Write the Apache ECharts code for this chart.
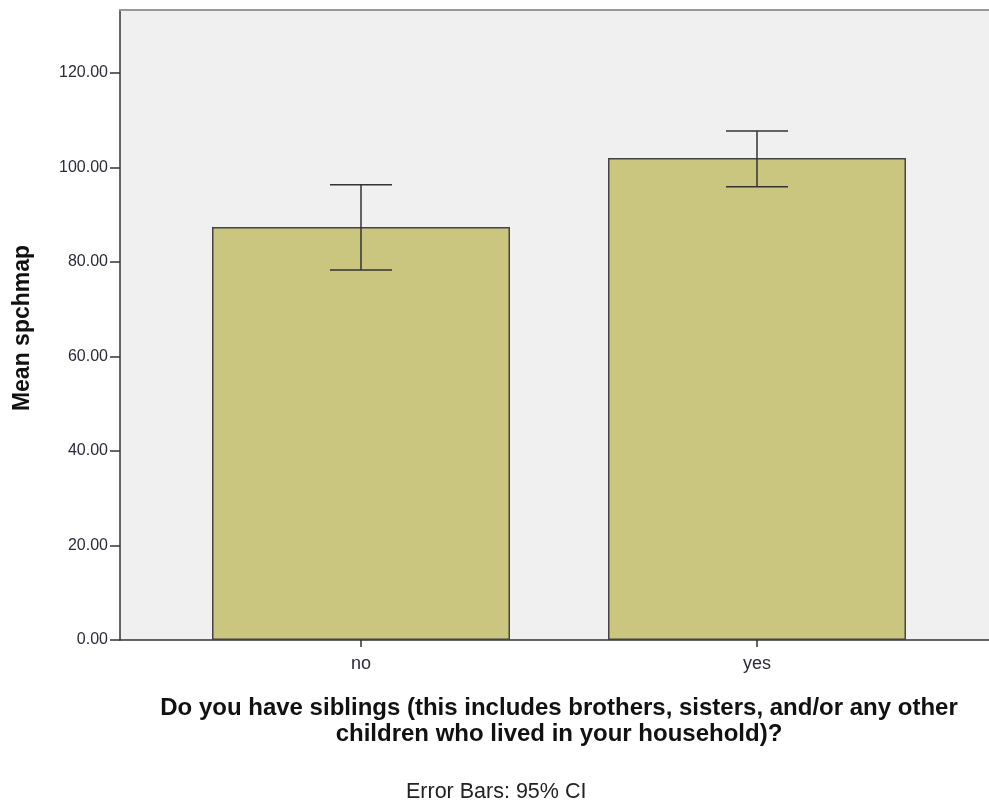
<!DOCTYPE html>
<html><head><meta charset="utf-8">
<script src="https://cdn.jsdelivr.net/npm/echarts@6/dist/echarts.min.js"></script>
<style>html,body{margin:0;padding:0;background:#fff}#c{width:989px;height:805px}</style>
</head><body><div id="c"></div>
<script>
const categories = ['no', 'yes'];
const means = [87.4, 102.0];
const ciLower = [78.3, 95.9];
const ciUpper = [96.3, 107.7];
const yTicks = [0, 20, 40, 60, 80, 100, 120];

const FONT = '"Liberation Sans", Arial, sans-serif';
const chart = echarts.init(document.getElementById('c'));
const yMax = 133.3;
chart.setOption({
  animation: false,
  grid: [
    {left: 120, right: -20, top: 10, bottom: 165, show: true, backgroundColor: '#f0f0f0', borderWidth: 0},
    {left: 163, right: 34, top: 10, bottom: 165, show: false}
  ],
  xAxis: [
    {gridIndex: 0, type: 'value', min: 0, max: 1, show: true,
     axisLine: {show: true, lineStyle: {color: '#333', width: 1.5}}, axisTick: {show: false}, axisLabel: {show: false}, splitLine: {show: false}},
    {gridIndex: 0, type: 'value', min: 0, max: 1, position: 'top',
     axisLine: {show: true, lineStyle: {color: '#999', width: 2}}, axisTick: {show: false}, axisLabel: {show: false}, splitLine: {show: false}},
    {gridIndex: 1, type: 'category', data: categories,
     axisLine: {show: false}, axisTick: {show: true, alignWithLabel: true, length: 7, lineStyle: {color: '#333', width: 1.5}},
     axisLabel: {color: '#2a2a3a', fontSize: 18, fontFamily: FONT, margin: 15}}
  ],
  yAxis: [
    {gridIndex: 0, type: 'value', min: 0, max: yMax, interval: 20,
     axisLine: {show: true, lineStyle: {color: '#333', width: 1.5}},
     axisTick: {show: true, length: 10, lineStyle: {color: '#333', width: 1.5}},
     axisLabel: {color: '#2a2a3a', fontSize: 16, fontFamily: FONT, margin: 12,
       formatter: v => yTicks.includes(v) ? v.toFixed(2) : '', showMaxLabel: false},
     splitLine: {show: false}},
    {gridIndex: 1, type: 'value', min: 0, max: yMax, show: false}
  ],
  series: [
    {type: 'bar', xAxisIndex: 2, yAxisIndex: 1, data: means, barWidth: 298,
     itemStyle: {color: '#cac57f', borderColor: '#444', borderWidth: 1.5}},
    {type: 'custom', xAxisIndex: 2, yAxisIndex: 1,
     data: categories.map((c, i) => [i, ciLower[i], ciUpper[i]]),
     renderItem: function (params, api) {
       const lo = api.coord([api.value(0), api.value(1)]);
       const hi = api.coord([api.value(0), api.value(2)]);
       const hw = 31;
       const st = {stroke: '#333', lineWidth: 1.5};
       return {type: 'group', children: [
         {type: 'line', shape: {x1: lo[0], y1: lo[1], x2: hi[0], y2: hi[1]}, style: st},
         {type: 'line', shape: {x1: lo[0]-hw, y1: lo[1], x2: lo[0]+hw, y2: lo[1]}, style: st},
         {type: 'line', shape: {x1: hi[0]-hw, y1: hi[1], x2: hi[0]+hw, y2: hi[1]}, style: st}
       ]};
     }, z: 5}
  ],
  graphic: [
    {type: 'text', x: 559, y: 695, style: {
      text: 'Do you have siblings (this includes brothers, sisters, and/or any other\nchildren who lived in your household)?',
      font: 'bold 24px ' + FONT, fill: '#111', align: 'center', verticalAlign: 'top', lineHeight: 26}},
    {type: 'text', x: 406, y: 792, style: {text: 'Error Bars: 95% CI', font: '21.5px ' + FONT, fill: '#222', verticalAlign: 'middle'}},
    {type: 'text', x: 23, y: 328, rotation: Math.PI / 2, style: {text: 'Mean spchmap', font: 'bold 23px ' + FONT, fill: '#111', align: 'center', verticalAlign: 'middle'}}
  ]
});
</script></body></html>
